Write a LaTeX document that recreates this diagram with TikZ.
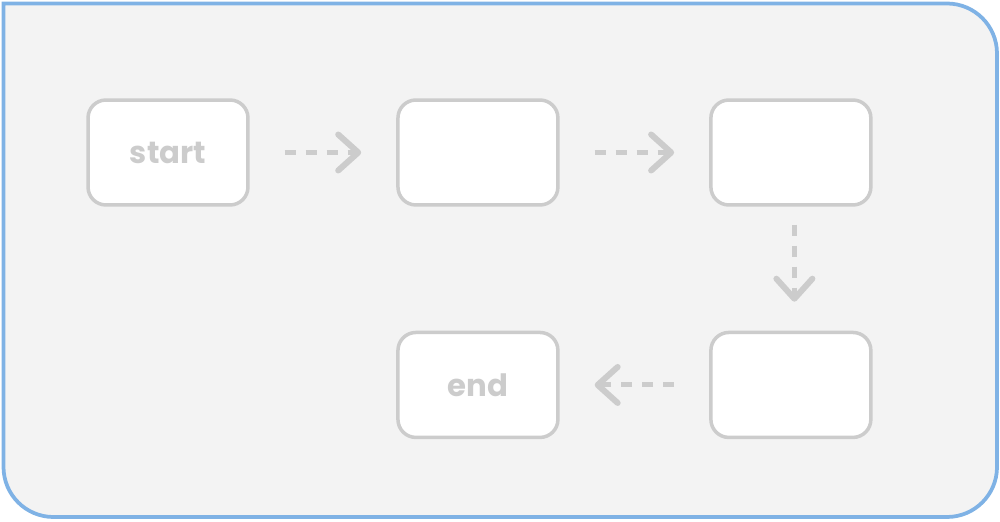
\documentclass[tikz,border=0pt]{standalone}
\usepackage{fontspec}
\setmainfont{Poppins}
\usetikzlibrary{arrows.meta}
\definecolor{framefill}{HTML}{F3F3F3}
\definecolor{frameblue}{HTML}{7FB2E5}
\definecolor{boxgray}{HTML}{CCCCCC}
\begin{document}
\begin{tikzpicture}[x=0.02cm,y=0.02cm,
    box/.style={draw=boxgray,fill=white,line width=0.07cm,rounded corners=0.36cm,
      minimum width=3.2cm,minimum height=2.1cm,text=boxgray,
      font=\fontsize{17.5}{20}\selectfont\bfseries},
    flow/.style={draw=boxgray,line width=0.1cm,dash pattern=on 0.22cm off 0.2cm,
      -{Straight Barb[length=0.4cm,width=0.72cm,line width=0.12cm,round]},
      shorten <=0.7cm,shorten >=0.7cm}]
  \useasboundingbox (0,0) rectangle (1000,521);
  % frame
  \draw[frameblue,fill=framefill,line width=0.075cm] (3.5,517.5) -- (947,517.5)
    arc[start angle=90,end angle=0,radius=1cm] -- (997,54)
    arc[start angle=0,end angle=-90,radius=1cm] -- (53.5,4)
    arc[start angle=270,end angle=180,radius=1cm] -- cycle;

  \node[box] (1) at (168,368.5) {start};
  \node[box,right of=1,xshift=5.2cm] (2) {};
  \node[box,right of=2,xshift=5.26cm] (3) {};
  \node[box,below of=3,yshift=-3.65cm] (4) {};
  \node[box,left of=4,xshift=-5.26cm] (5) {end};

  \draw[flow] (1) -- (2);
  \draw[flow] (2) -- (3);
  \draw[flow,shorten <=0.36cm,shorten >=0.58cm] ([xshift=0.07cm]3.south) -- ([xshift=0.07cm]4.north);
  \draw[flow] (4) -- (5);
\end{tikzpicture}
\end{document}
